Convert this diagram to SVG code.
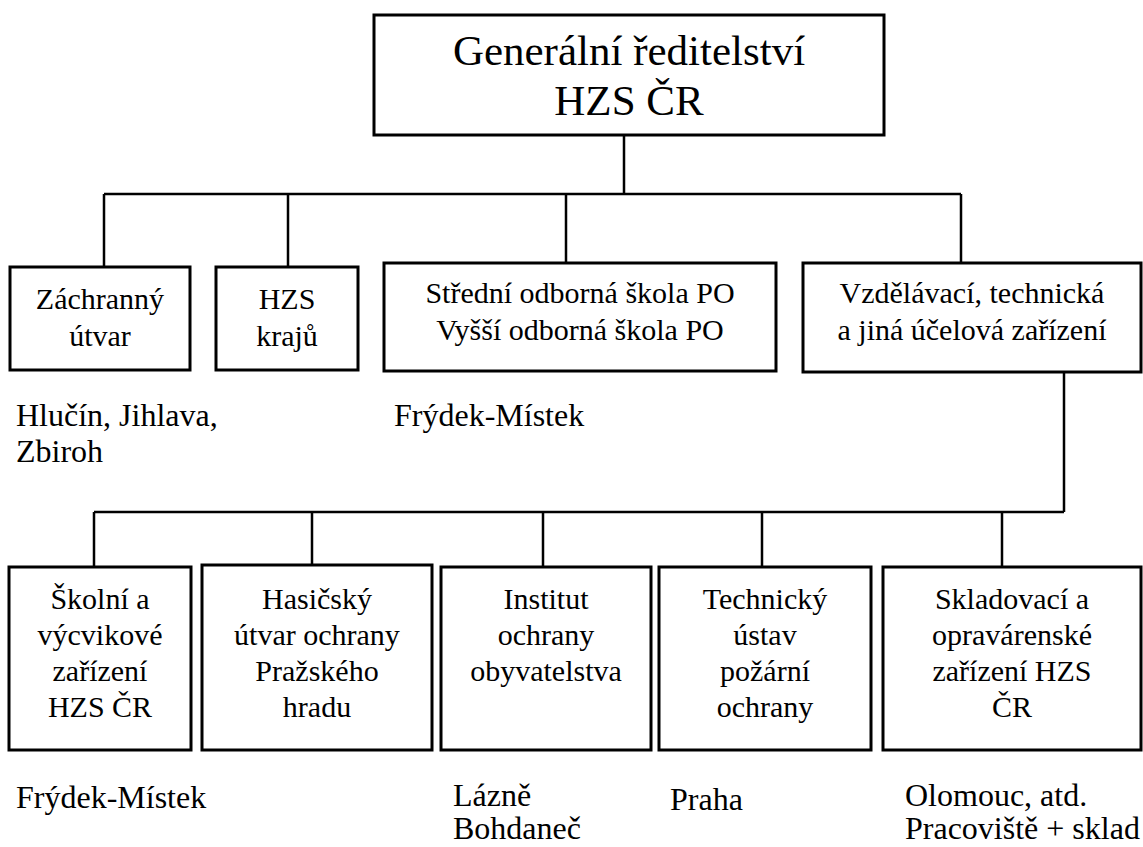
<svg xmlns="http://www.w3.org/2000/svg" width="1143" height="847" viewBox="0 0 1143 847">
<style>
  .box { fill: #fff; stroke: #000; stroke-width: 3; }
  .conn { fill: none; stroke: #000; stroke-width: 2.5; }
  .t { font-family: "Liberation Serif", "Times New Roman", serif; font-size: 30px; text-anchor: middle; fill: #000; }
  .title { font-family: "Liberation Serif", "Times New Roman", serif; font-size: 43px; text-anchor: middle; fill: #000; }
  .lbl { font-family: "Liberation Serif", "Times New Roman", serif; font-size: 32px; fill: #000; }
</style>
<rect width="1143" height="847" fill="#fff"/>
<g id="connectors">
  <path class="conn" d="M624 135 V194 M104 194 H961 M104 194 V267 M288 194 V267 M566 194 V263 M961 194 V263"/>
  <path class="conn" d="M1064 372 V512 M94 512 H1064 M94 512 V567 M312 512 V565 M543 512 V567 M762 512 V567 M1002 512 V567"/>
</g>
<g id="n-gr">
  <rect class="box" x="374" y="15" width="510" height="120"/>
  <text class="title" x="629" y="65">Generální ředitelství</text>
  <text class="title" x="629" y="115">HZS ČR</text>
</g>
<g id="n-zachranny">
  <rect class="box" x="10" y="267" width="180" height="103"/>
  <text class="t" x="100" y="309">Záchranný</text>
  <text class="t" x="100" y="346">útvar</text>
</g>
<g id="n-hzs-kraju">
  <rect class="box" x="216" y="267" width="142" height="103"/>
  <text class="t" x="287" y="309">HZS</text>
  <text class="t" x="287" y="346">krajů</text>
</g>
<g id="n-skola">
  <rect class="box" x="384" y="263" width="392" height="108"/>
  <text class="t" x="580" y="303">Střední odborná škola PO</text>
  <text class="t" x="580" y="340">Vyšší odborná škola PO</text>
</g>
<g id="n-vzdelavaci">
  <rect class="box" x="803" y="263" width="338" height="109"/>
  <text class="t" x="972" y="303">Vzdělávací, technická</text>
  <text class="t" x="972" y="340">a jiná účelová zařízení</text>
</g>
<g id="n-skolni">
  <rect class="box" x="9" y="567" width="182" height="183"/>
  <text class="t" x="100" y="609">Školní a</text>
  <text class="t" x="100" y="645">výcvikové</text>
  <text class="t" x="100" y="681">zařízení</text>
  <text class="t" x="100" y="717">HZS ČR</text>
</g>
<g id="n-hasicsky">
  <rect class="box" x="202" y="565" width="230" height="185"/>
  <text class="t" x="317" y="609">Hasičský</text>
  <text class="t" x="317" y="645">útvar ochrany</text>
  <text class="t" x="317" y="681">Pražského</text>
  <text class="t" x="317" y="717">hradu</text>
</g>
<g id="n-institut">
  <rect class="box" x="441" y="567" width="210" height="183"/>
  <text class="t" x="546" y="609">Institut</text>
  <text class="t" x="546" y="645">ochrany</text>
  <text class="t" x="546" y="681">obyvatelstva</text>
</g>
<g id="n-technicky">
  <rect class="box" x="659" y="567" width="212" height="183"/>
  <text class="t" x="765" y="609">Technický</text>
  <text class="t" x="765" y="645">ústav</text>
  <text class="t" x="765" y="681">požární</text>
  <text class="t" x="765" y="717">ochrany</text>
</g>
<g id="n-skladovaci">
  <rect class="box" x="883" y="567" width="258" height="183"/>
  <text class="t" x="1012" y="609">Skladovací a</text>
  <text class="t" x="1012" y="645">opravárenské</text>
  <text class="t" x="1012" y="681">zařízení HZS</text>
  <text class="t" x="1012" y="717">ČR</text>
</g>
<g id="labels">
  <text class="lbl" x="16" y="426">Hlučín, Jihlava,</text>
  <text class="lbl" x="16" y="462">Zbiroh</text>
  <text class="lbl" x="394" y="426">Frýdek-Místek</text>
  <text class="lbl" x="16" y="808">Frýdek-Místek</text>
  <text class="lbl" x="453" y="806">Lázně</text>
  <text class="lbl" x="453" y="839">Bohdaneč</text>
  <text class="lbl" x="670" y="810">Praha</text>
  <text class="lbl" x="905" y="806">Olomouc, atd.</text>
  <text class="lbl" x="905" y="839">Pracoviště + sklad</text>
</g>
</svg>
